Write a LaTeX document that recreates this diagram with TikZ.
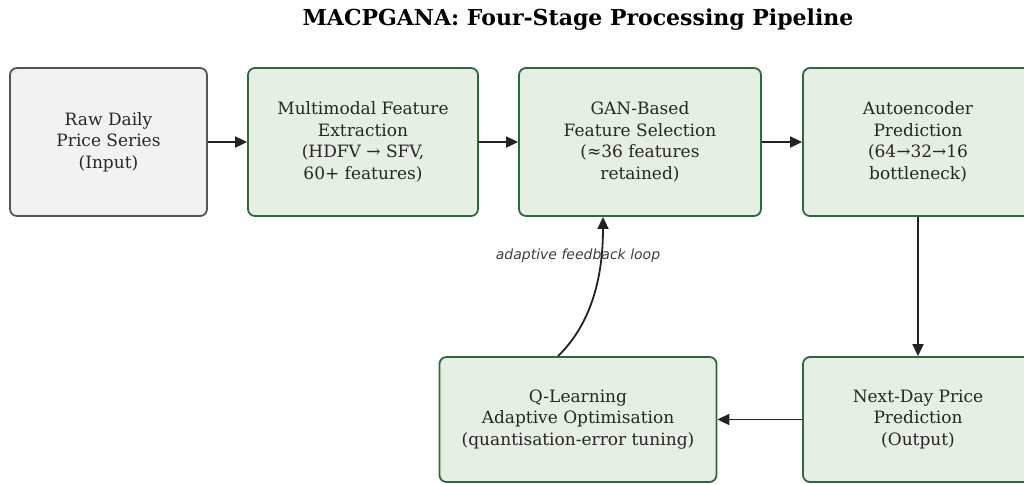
\documentclass[tikz,border=0pt]{standalone}
\usepackage{fontspec}
\setmainfont{DejaVu Serif}
\setsansfont{DejaVu Sans}
\usetikzlibrary{arrows.meta}
\definecolor{stagefill}{HTML}{E6EFE3}
\definecolor{stageline}{HTML}{2D6A3A}
\definecolor{rawfill}{HTML}{F2F2F2}
\definecolor{rawline}{HTML}{555555}
\definecolor{flowline}{HTML}{222222}
\begin{document}
\begin{tikzpicture}
	[x=1pt,y=-1pt,
	 stage/.style={draw=stageline,fill=stagefill,line width=1.8pt,rounded corners=7pt,
	   align=center,font=\fontsize{17}{21.5}\selectfont,text=black!85,minimum height=148pt,inner sep=0pt},
	 rawstage/.style={stage,draw=rawline,fill=rawfill},
	 flow/.style={draw=flowline,line width=1.8pt,-{Triangle[length=12pt,width=11pt]}}]
\useasboundingbox (0,0) rectangle (1024,483);
% title
\node (title) at (578,20) {\fontsize{22}{26}\selectfont\bfseries MACPGANA: Four-Stage Processing Pipeline};
% top row
\node[rawstage,minimum width=197pt] (raw) at (108.5,142) {Raw Daily\\Price Series\\(Input)};
\node[stage,minimum width=230pt] (mfe) at (363,142) {Multimodal Feature\\Extraction\\(HDFV → SFV,\\60+ features)};
\node[stage,minimum width=242pt] (gan) at (640,142) {GAN-Based\\Feature Selection\\(≈36 features\\retained)};
\node[stage,minimum width=230pt] (ae) at (918,142) {Autoencoder\\Prediction\\(64→32→16\\bottleneck)};
% bottom row
\node[stage,minimum width=230pt,minimum height=125pt] (out) at (918,419.5) {Next-Day Price\\Prediction\\(Output)};
\node[stage,minimum width=277pt,minimum height=125pt] (ql) at (578,419.5) {Q-Learning\\Adaptive Optimisation\\(quantisation-error tuning)};
\foreach \a/\b in {raw/mfe,mfe/gan,gan/ae}
\draw[flow] (\a) -- (\b);
\draw[flow] (ae) -- (out);
\draw[flow] (out) -- (ql);
% feedback
\draw[flow] ([xshift=-20pt]ql.north) .. controls (590,325) and (603,280) .. ([xshift=-37pt]gan.south);
\node[font=\sffamily\itshape\fontsize{14}{16}\selectfont,text=black!75] (fb) at (578,256) {adaptive feedback loop};
\end{tikzpicture}
\end{document}
